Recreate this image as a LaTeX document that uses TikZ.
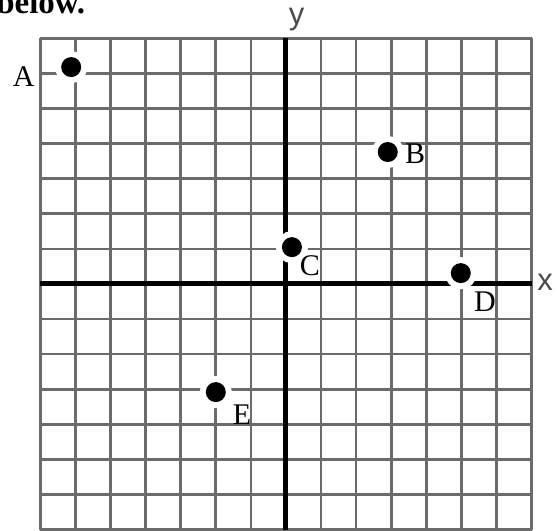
\documentclass[tikz,border=0pt]{standalone}
\usepackage{fontspec}
\setmainfont{Liberation Serif}
\newfontfamily\axisfont{Liberation Sans}
\begin{document}
\begin{tikzpicture}[x=35.1pt,y=35.1pt,
  gridline/.style={draw=black!58, line width=2.6pt},
  axisline/.style={draw=black, line width=5pt},
  dot/.style={circle, fill=black, minimum size=20pt, inner sep=0pt, preaction={draw=white, line width=12pt}},
  lbl/.style={font=\fontsize{30}{36}\selectfont, inner sep=0pt},
  axlbl/.style={font=\axisfont\fontsize{31}{36}\selectfont, text=black!70, inner sep=0pt}]
\useasboundingbox (-8.148,-7.037) rectangle (7.721,8.091);
\node[anchor=base west, font=\bfseries\fontsize{33}{38}\selectfont, inner sep=0pt] (title) at (-8.26,7.72) {below.};
\draw[gridline, step=1] (-7,-7) grid (7,7);
\draw[axisline] (-7,0) -- (7,0);
\draw[axisline] (0,-7) -- (0,7);
\node[axlbl] (xl) at (7.38,0.05) {x};
\node[axlbl] (yl) at (0.3,7.53) {y};
\node[dot] (A) at (-6.12,6.18) {};
\node[dot] (B) at (2.9,3.76) {};
\node[dot] (C) at (0.17,1.05) {};
\node[dot] (D) at (4.98,0.31) {};
\node[dot] (E) at (-2.0,-3.08) {};
\node[lbl] (la) at (-7.47,5.90) {A};
\node[lbl] (lb) at (3.68,3.70) {B};
\node[lbl] (lc) at (0.68,0.51) {C};
\node[lbl] (ld) at (5.67,-0.51) {D};
\node[lbl] (le) at (-1.25,-3.73) {E};
\end{tikzpicture}
\end{document}
